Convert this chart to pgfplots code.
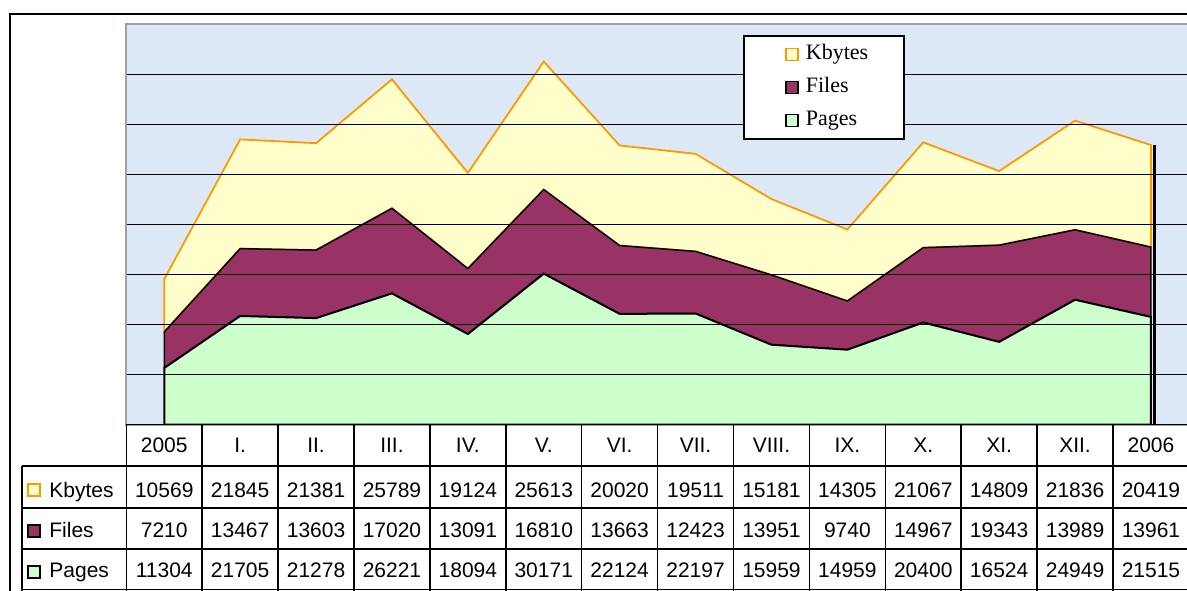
\documentclass[border=0pt]{standalone}
\usepackage{pgfplots}
\pgfplotsset{compat=1.18}
\usepackage{pgfplotstable}
\usepackage{fontspec}
\setmainfont{Liberation Serif}
\newfontfamily\arial{Liberation Sans}
\definecolor{bgblue}{HTML}{DCE8F6}
\definecolor{pagegreen}{HTML}{CCFFCC}
\definecolor{fileplum}{HTML}{993366}
\definecolor{kbyellow}{HTML}{FFFFCC}
\definecolor{kborange}{HTML}{FF9900}

% monthly stats, stacked: Pages, Files, Kbytes
\pgfplotstableread{
x lab Pages Files Kbytes
0 2005 11304 7210 10569
1 I. 21705 13467 21845
2 II. 21278 13603 21381
3 III. 26221 17020 25789
4 IV. 18094 13091 19124
5 V. 30171 16810 25613
6 VI. 22124 13663 20020
7 VII. 22197 12423 19511
8 VIII. 15959 13951 15181
9 IX. 14959 9740 14305
10 X. 20400 14967 21067
11 XI. 16524 19343 14809
12 XII. 24949 13989 21836
13 2006 21515 13961 20419
}\data

\pgfplotsset{sq/.style={legend image code/.code={%
  \path[draw=none, fill=none] (0pt,0pt) -- (31pt,0pt);
  \draw[##1,line width=0.75pt] (21pt,-3pt) rectangle (27pt,3pt);}}}

\begin{document}
\begin{tikzpicture}
\path[use as bounding box] (0,0) rectangle (593.5pt,295pt);
\clip (0,0) rectangle (593.5pt,295pt);
\begin{axis}[
  at={(63.15pt,82.75pt)}, anchor=south west,
  scale only axis, width=531.3pt, height=200pt,
  xmin=-0.5, xmax=13.5, ymin=0, ymax=80000,
  xtick=\empty,
  ytick={0,10000,...,80000}, yticklabels={},
  scaled y ticks=false,
  major tick length=0pt,
  ymajorgrids, grid style={black, line width=0.5pt},
  axis line style={draw=gray!75, line width=1pt},
  axis background/.style={fill=bgblue},
  stack plots=y, area style,
  reverse legend,
  legend cell align=left,
  legend style={at={(axis cs:7.625,77900)}, anchor=north west,
    draw=black, line width=0.9pt, fill=white,
    inner xsep=0pt, inner ysep=1pt,
    font=\fontsize{11}{13}\selectfont,
    nodes={text height=8pt, text depth=2.5pt, inner ysep=3pt,
           inner xsep=0pt, text width=49pt, align=left}},
]
\addplot[fill=pagegreen, draw=black, line width=1pt, sq]
  table[x=x, y=Pages]{\data} \closedcycle;
\addplot[fill=fileplum, draw=black, line width=0.75pt, sq]
  table[x=x, y=Files]{\data} \closedcycle;
\addplot[fill=kbyellow, draw=kborange, line width=0.9pt, sq]
  table[x=x, y=Kbytes]{\data} \closedcycle;
\legend{Pages, Files, Kbytes}
\end{axis}
% right-hand shadow of the area block
\begin{axis}[
  at={(63.15pt,82.75pt)}, anchor=south west,
  scale only axis, width=531.3pt, height=200pt,
  xmin=-0.5, xmax=13.5, ymin=0, ymax=80000,
  hide axis]
\addplot[black, line width=1.6pt] coordinates {(13.045,0) (13.045,55895)};
\end{axis}

% data table below the plot, in pixel units from the top-left
\begin{scope}[x=0.5pt, y=-0.5pt, shift={(0pt,295pt)},
  tb/.style={anchor=base, inner sep=0pt, font=\arial\fontsize{10.5}{12}\selectfont}]
  \draw[line width=1pt] (10,600) -- (10,14) -- (1200,14);
  \draw[line width=0.75pt] (126.3,424.5) -- (1200,424.5);
  \foreach \yy in {466,508,549,589.5}
    \draw[line width=0.75pt] (22,\yy) -- (1200,\yy);
  \draw[line width=0.75pt] (22,466) -- (22,600);
  \foreach \k in {0,...,14}
    \draw[line width=0.75pt] ({126.3+75.9*\k},424.5) -- ({126.3+75.9*\k},600);
  \foreach \i in {0,...,13}{
    \pgfmathsetmacro\cx{164.25+75.9*\i}
    \pgfplotstablegetelem{\i}{lab}\of\data
    \node[tb] at (\cx,452) {\pgfplotsretval};
    \pgfplotstablegetelem{\i}{Kbytes}\of\data
    \node[tb] at (\cx,497) {\pgfplotsretval};
    \pgfplotstablegetelem{\i}{Files}\of\data
    \node[tb] at (\cx,537) {\pgfplotsretval};
    \pgfplotstablegetelem{\i}{Pages}\of\data
    \node[tb] at (\cx,577) {\pgfplotsretval};
  }
  \draw[kborange, fill=kbyellow, line width=0.75pt] (28,484) rectangle (40,496);
  \draw[black, fill=fileplum, line width=0.75pt] (28,525) rectangle (40,537);
  \draw[black, fill=pagegreen, line width=0.75pt] (28,566) rectangle (40,578);
  \node[tb, anchor=base west] at (49,497) {Kbytes};
  \node[tb, anchor=base west] at (49,537) {Files};
  \node[tb, anchor=base west] at (49,577) {Pages};
\end{scope}
\end{tikzpicture}
\end{document}
